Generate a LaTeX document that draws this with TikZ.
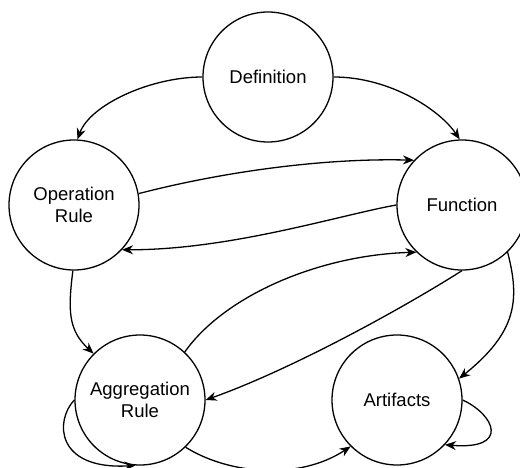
\documentclass[tikz,border=0pt]{standalone}
\usepackage{fontspec}
\setmainfont{Liberation Sans}
\usetikzlibrary{arrows.meta}
\begin{document}
\begin{tikzpicture}[x=1pt,y=-1pt,
  st/.style={circle,draw,line width=1.3pt,minimum size=130pt,inner sep=0pt,align=center,
    font=\fontsize{18.5}{22}\selectfont},
  ed/.style={line width=1.3pt,-{Stealth[length=11pt,width=9pt,inset=3.5pt]}}]
\useasboundingbox (0,0) rectangle (520,468);
\clip (0,0) rectangle (520,468);
\node[st] (def) at (268,77) {Definition};
\node[st] (op) at (74,205) {Operation\\Rule};
\node[st] (fun) at (462,205) {Function};
\node[st] (agg) at (140,400) {Aggregation\\Rule};
\node[st] (art) at (397,400) {Artifacts};
% Definition -> Operation Rule
\draw[ed] (def.180) .. controls (150,77) and (90,105) .. (op.87);
% Definition -> Function
\draw[ed] (def.0) .. controls (390,77) and (440,110) .. (fun.92);
% Operation Rule -> Function
\draw[ed] (op.10) .. controls (230,170) and (330,158) .. (fun.137);
% Function -> Operation Rule
\draw[ed] (fun.180) .. controls (340,215) and (230,250) .. (op.-43);
% Operation Rule -> Aggregation Rule
\draw[ed] (op.-91) .. controls (68,310) and (68,330) .. (agg.135);
% Aggregation Rule -> Function
\draw[ed] (agg.47) .. controls (225,295) and (320,255) .. (fun.-134);
% Function -> Aggregation Rule
\draw[ed] (fun.-90) .. controls (400,310) and (290,370) .. (agg.0);
% Function -> Artifacts
\draw[ed] (fun.-46) .. controls (520,300) and (517,332) .. (art.19);
% Artifacts self loop
\draw[ed] (art.0) .. controls (495,415) and (510,450) .. (art.-43);
% Aggregation Rule -> Artifacts
\draw[ed] (agg.-46) .. controls (230,475) and (300,480) .. (art.-135);
% Aggregation Rule self loop
\draw[ed] (agg.180) .. controls (55,420) and (55,470) .. (agg.-94);
\end{tikzpicture}
\end{document}
